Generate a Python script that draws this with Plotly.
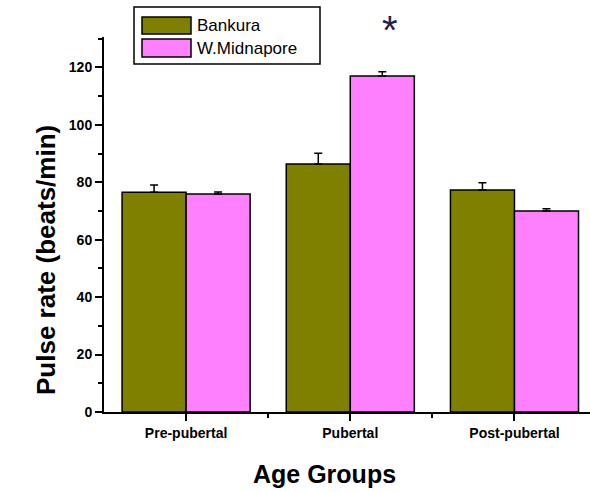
import plotly.graph_objects as go

# Age groups and mean pulse rates (beats/min) with standard errors
groups = ["Pre-pubertal", "Pubertal", "Post-pubertal"]
bankura = [76.5, 86.4, 77.3]
bankura_err = [2.6, 3.7, 2.5]
midnapore = [75.9, 117.0, 70.0]
midnapore_err = [0.7, 1.5, 0.8]
y_ticks = [0, 20, 40, 60, 80, 100, 120]
series_names = ["Bankura", "W.Midnapore"]
series_colors = ["#808000", "#FF80FF"]

FONT = "Liberation Sans, Arial, sans-serif"
W, H = 590, 492
L, R, T, B = 104, 0, 37, 80
PW, PH = W - L - R, H - T - B


def px_x(px):
    return (px - L) / PW


def px_y(py):
    return (H - B - py) / PH


xpos = list(range(len(groups)))

fig = go.Figure()
for name, vals, errs, col in [
    (series_names[0], bankura, bankura_err, series_colors[0]),
    (series_names[1], midnapore, midnapore_err, series_colors[1]),
]:
    fig.add_trace(go.Bar(
        x=xpos, y=vals, name=name, showlegend=False,
        marker=dict(color=col, line=dict(color="black", width=1.5)),
        error_y=dict(type="data", symmetric=False, array=errs,
                     arrayminus=[0] * len(errs), color="black",
                     thickness=1.5, width=4),
    ))

fig.update_layout(
    width=W, height=H,
    margin=dict(l=L, r=R, t=T, b=B, pad=0),
    paper_bgcolor="white", plot_bgcolor="white",
    barmode="group", bargap=0.22, bargroupgap=0,
    font=dict(family=FONT, color="black"),
)

fig.update_xaxes(
    range=[-0.5, 2.46], tickmode="array", tickvals=xpos, ticktext=groups,
    showline=True, linecolor="black", linewidth=2, mirror=False,
    ticks="outside", ticklen=7, tickwidth=1.5, tickcolor="black",
    tickfont=dict(family=FONT, size=14, color="black", weight="bold"),
    showgrid=False, zeroline=False,
    minor=dict(tickmode="array", tickvals=[0.5, 1.5], ticks="outside",
               ticklen=4, tickwidth=1.5, tickcolor="black"),
)
fig.update_yaxes(
    range=[0, 130.6], tickmode="array", tickvals=y_ticks,
    showline=True, linecolor="black", linewidth=2,
    ticks="outside", ticklen=7, tickwidth=1.5, tickcolor="black",
    tickfont=dict(family=FONT, size=14, color="black", weight="bold"),
    showgrid=False, zeroline=False,
    minor=dict(tickmode="array", tickvals=[10, 30, 50, 70, 90, 110, 130],
               ticks="outside", ticklen=4, tickwidth=1.5, tickcolor="black"),
)

# Axis titles
fig.add_annotation(text="<b>Pulse rate (beats/min)</b>", textangle=-90,
                   xref="paper", yref="paper", x=px_x(29), y=px_y(260),
                   showarrow=False, font=dict(family=FONT, size=26, color="black"))
fig.add_annotation(text="<b>Age Groups</b>",
                   xref="paper", yref="paper", x=px_x(324), y=px_y(490),
                   showarrow=False, font=dict(family=FONT, size=25, color="black"))

# Significance marker above the pubertal W.Midnapore bar
fig.add_annotation(text="*", xref="paper", yref="paper",
                   x=px_x(390), y=px_y(30),
                   showarrow=False, yanchor="middle",
                   font=dict(family=FONT, size=40, color="#222244"))

# Legend box with swatches
fig.add_shape(type="rect", xref="paper", yref="paper",
              x0=px_x(134), x1=px_x(320), y0=px_y(64), y1=px_y(7),
              line=dict(color="black", width=1.5), fillcolor="white")
for i, (name, col) in enumerate(zip(series_names, series_colors)):
    top, bot = [(17, 34), (39, 57)][i]
    fig.add_shape(type="rect", xref="paper", yref="paper",
                  x0=px_x(142), x1=px_x(191), y0=px_y(bot), y1=px_y(top),
                  line=dict(color="black", width=1.5), fillcolor=col)
    fig.add_annotation(text=name, xref="paper", yref="paper",
                       x=px_x(195), y=px_y((top + bot) / 2),
                       xanchor="left", yanchor="middle", showarrow=False,
                       font=dict(family=FONT, size=17, color="black"))

fig.write_html("out.html")
